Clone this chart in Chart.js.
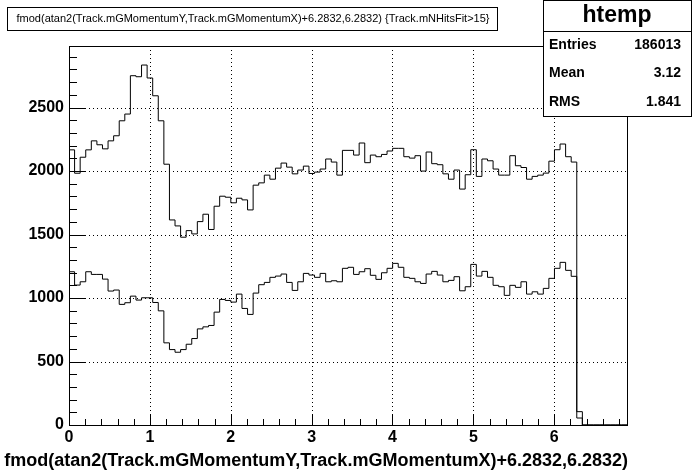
<!DOCTYPE html>
<html>
<head>
<meta charset="UTF-8" />
<title>htemp</title>
<script src="https://cdn.jsdelivr.net/npm/chart.js@4"></script>
<style>
  html, body { margin: 0; padding: 0; background: #fff; }
  canvas { display: block; }
</style>
</head>
<body>
<canvas id="histo" width="696" height="472"></canvas>
<script>
  // binning of htemp
  const xMin = 0, xMax = 6.9, nBins = 100;
  const yMax = 2985;

  // bin contents (bins 92..99 are empty)
  const upperCounts = [2167, 1983, 2109, 2167, 2238, 2207, 2175, 2238, 2278, 2396,
    2449, 2751, 2743, 2835, 2733, 2593, 2396, 2054, 1615, 1568,
    1479, 1531, 1505, 1602, 1660, 1540, 1723, 1802, 1794, 1750,
    1786, 1773, 1694, 1889, 1907, 1968, 1936, 2023, 2063, 2031,
    1978, 2008, 2039, 1981, 1992, 2016, 2095, 2071, 1968, 2163,
    2163, 2126, 2221, 2066, 2126, 2113, 2131, 2158, 2179, 2179,
    2113, 2102, 2121, 2000, 2150, 2058, 2050, 1978, 1936, 2008,
    1858, 1971, 2168, 1958, 2095, 2081, 2016, 1968, 1968, 2121,
    2042, 2028, 1936, 1958, 1968, 1984, 2078, 2168, 2213, 2113,
    2071, 105];
  const lowerCounts = [1207, 1102, 1128, 1207, 1186, 1186, 1149, 1055, 1063, 950,
    963, 1015, 984, 1002, 1002, 965, 899, 647, 594, 573,
    594, 636, 681, 757, 773, 784, 889, 989, 981, 968,
    1031, 918, 871, 1039, 1105, 1123, 1163, 1173, 1189, 1123,
    1060, 1128, 1194, 1181, 1163, 1194, 1128, 1136, 1128, 1234,
    1242, 1186, 1207, 1231, 1179, 1147, 1199, 1234, 1273, 1242,
    1163, 1155, 1128, 1115, 1189, 1210, 1181, 1128, 1139, 1168,
    1057, 1089, 1265, 1173, 1210, 1163, 1100, 1089, 1021, 1100,
    1084, 1128, 1031, 1049, 1031, 1076, 1155, 1234, 1281, 1218,
    1171, 55];

  const xTicks = [0, 1, 2, 3, 4, 5, 6];
  const yTicks = [0, 500, 1000, 1500, 2000, 2500];
  const xMinorStep = 0.2, yMinorStep = 100;

  const titleText = 'fmod(atan2(Track.mGMomentumY,Track.mGMomentumX)+6.2832,6.2832) {Track.mNHitsFit>15}';
  const xTitle = 'fmod(atan2(Track.mGMomentumY,Track.mGMomentumX)+6.2832,6.2832)';
  const statsName = 'htemp';
  const statsLabels = ['Entries', 'Mean', 'RMS'];
  const statsValues = ['186013', '3.12', '1.841'];

  const FONT = '"Liberation Sans", Arial, Helvetica, sans-serif';

  // one point per low bin edge, plus the upper edge of the last bin
  function histPoints(counts) {
    const w = (xMax - xMin) / nBins;
    const pts = [];
    for (let i = 0; i < nBins; i++) pts.push({ x: xMin + i * w, y: counts[i] || 0 });
    pts.push({ x: xMax, y: counts[nBins - 1] || 0 });
    return pts;
  }

  // frame, dotted grid, inner ticks, title box, stats box, axis title
  const rootStyle = {
    id: 'rootStyle',
    beforeDatasetsDraw(chart) {
      const { ctx, chartArea: a, scales: { x, y } } = chart;
      ctx.save();
      ctx.strokeStyle = '#000';
      ctx.lineWidth = 1;
      ctx.setLineDash([1, 3]);
      ctx.beginPath();
      xTicks.forEach(v => {
        const px = Math.round(x.getPixelForValue(v)) + 0.5;
        ctx.moveTo(px, a.top); ctx.lineTo(px, a.bottom);
      });
      yTicks.forEach(v => {
        const py = Math.round(y.getPixelForValue(v)) + 0.5;
        ctx.moveTo(a.left, py); ctx.lineTo(a.right, py);
      });
      ctx.stroke();
      ctx.restore();
    },
    afterDatasetsDraw(chart) {
      const { ctx, chartArea: a, scales: { x, y } } = chart;
      ctx.save();
      ctx.strokeStyle = '#000';
      ctx.lineWidth = 1;
      ctx.setLineDash([]);
      ctx.beginPath();
      // y ticks
      for (let v = 0; v <= yMax; v += yMinorStep) {
        const py = Math.round(y.getPixelForValue(v)) + 0.5;
        const len = v % 500 === 0 ? 17 : 8;
        ctx.moveTo(a.left, py); ctx.lineTo(a.left + len, py);
      }
      // x ticks
      for (let k = 0; k * xMinorStep <= xMax + 1e-9; k++) {
        const v = k * xMinorStep;
        const px = Math.round(x.getPixelForValue(v)) + 0.5;
        const len = k % 5 === 0 ? 11 : 6;
        ctx.moveTo(px, a.bottom); ctx.lineTo(px, a.bottom - len);
      }
      ctx.stroke();
      ctx.strokeRect(Math.round(a.left) + 0.5, Math.round(a.top) + 0.5,
        Math.round(a.right - a.left), Math.round(a.bottom - a.top));

      // title box
      ctx.fillStyle = '#fff';
      ctx.fillRect(7, 7, 490, 23);
      ctx.strokeRect(7.5, 7.5, 490, 23);
      ctx.fillStyle = '#000';
      ctx.font = '11px ' + FONT;
      ctx.textAlign = 'center';
      ctx.textBaseline = 'middle';
      ctx.fillText(titleText, 253, 19);

      // stats box
      ctx.fillStyle = '#fff';
      ctx.fillRect(543, 0, 149, 116);
      ctx.strokeRect(543.5, 0.5, 148, 116);
      ctx.beginPath();
      ctx.moveTo(543, 31.5); ctx.lineTo(692, 31.5);
      ctx.stroke();
      ctx.fillStyle = '#000';
      ctx.font = 'bold 23px ' + FONT;
      ctx.textAlign = 'center';
      ctx.fillText(statsName, 617, 16);
      ctx.font = 'bold 14px ' + FONT;
      statsLabels.forEach((lab, i) => {
        const ty = 45 + i * 28.5;
        ctx.textAlign = 'left';
        ctx.fillText(lab, 549, ty);
        ctx.textAlign = 'right';
        ctx.fillText(statsValues[i], 681, ty);
      });

      // x axis title, right aligned at the axis end
      ctx.font = 'bold 18px ' + FONT;
      ctx.textAlign = 'right';
      ctx.textBaseline = 'middle';
      ctx.fillText(xTitle, a.right + 1, 461);
      ctx.restore();
    }
  };

  const ctx = document.getElementById('histo').getContext('2d');
  new Chart(ctx, {
    type: 'line',
    data: {
      datasets: [{
        label: 'htemp',
        data: histPoints(upperCounts),
        stepped: 'before',
        borderColor: '#000',
        borderWidth: 1,
        pointRadius: 0,
        fill: false
      }, {
        label: 'htemp (same)',
        data: histPoints(lowerCounts),
        stepped: 'before',
        borderColor: '#000',
        borderWidth: 1,
        pointRadius: 0,
        fill: false
      }]
    },
    options: {
      responsive: false,
      animation: false,
      devicePixelRatio: 1,
      layout: { padding: { top: 46, right: 69, left: 0, bottom: 0 } },
      plugins: { legend: { display: false }, tooltip: { enabled: false }, title: { display: false } },
      scales: {
        x: {
          type: 'linear', min: xMin, max: xMax,
          afterFit(s) { s.height = 47; },
          afterBuildTicks(s) { s.ticks = xTicks.map(v => ({ value: v })); },
          grid: { display: false, drawTicks: false },
          border: { display: false },
          ticks: { color: '#000', padding: 3, maxRotation: 0, autoSkip: false,
                   callback: v => String(v),
                   font: { family: FONT, weight: 'bold', size: 16 } }
        },
        y: {
          type: 'linear', min: 0, max: yMax,
          afterFit(s) { s.width = 69; },
          afterBuildTicks(s) { s.ticks = yTicks.map(v => ({ value: v })); },
          grid: { display: false, drawTicks: false },
          border: { display: false },
          ticks: { color: '#000', padding: 5,
                   callback: v => String(v),
                   font: { family: FONT, weight: 'bold', size: 16 } }
        }
      }
    },
    plugins: [rootStyle]
  });
</script>
</body>
</html>
